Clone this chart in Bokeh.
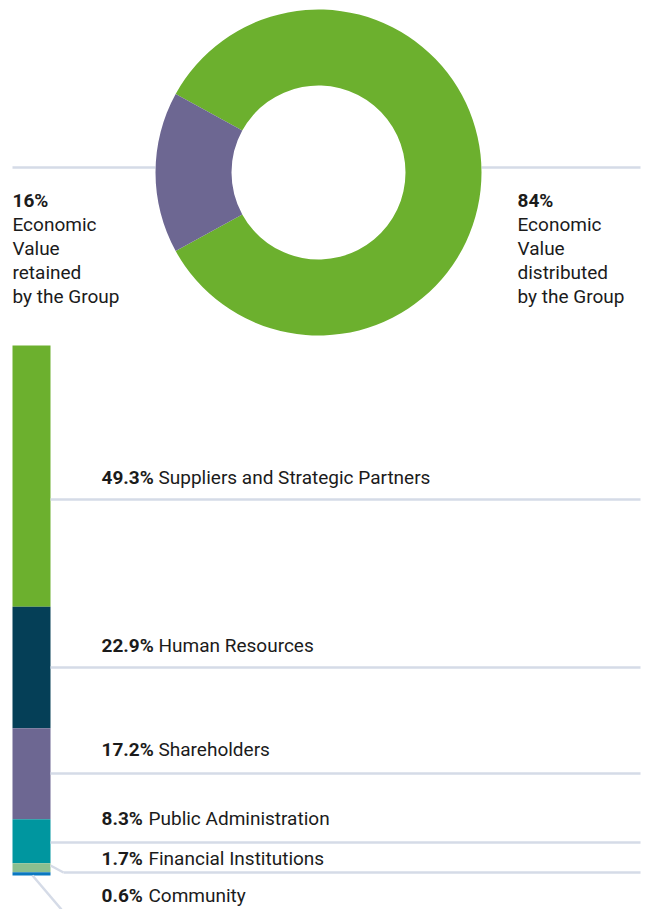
from bokeh.plotting import figure
from bokeh.models import Range1d, ColumnDataSource
from bokeh.core.properties import value
from bokeh.embed import file_html
from bokeh.resources import INLINE
import numpy as np

# ---------------- data ----------------
donut_labels = ["Economic Value distributed by the Group", "Economic Value retained by the Group"]
donut_values = [84, 16]
donut_colors = ["#6cb02e", "#6d6792"]

bar_categories = ["Suppliers and Strategic Partners", "Human Resources", "Shareholders",
                  "Public Administration", "Financial Institutions", "Community"]
bar_values = [49.3, 22.9, 17.2, 8.3, 1.7, 0.6]
bar_colors = ["#6cb02e", "#053f57", "#6d6792", "#00969f", "#8bbf8f", "#0b78c0"]

left_lines = ["Economic", "Value", "retained", "by the Group"]
right_lines = ["Economic", "Value", "distributed", "by the Group"]

# ---------------- layout ----------------
W, H = 655, 909
TXT_SHIFT = 7  # svg text baseline correction

def sy(y):
    """page y (from top) -> data y"""
    return H - y

def ty(y):
    """page baseline y for text -> data y"""
    return H - (y - TXT_SHIFT)

FONT = "Roboto"
TXT = "#1b1b1b"
LINE = "#d5dbe7"
FS = "19px"

p = figure(width=W, height=H, output_backend="svg", toolbar_location=None,
           x_range=Range1d(0, W), y_range=Range1d(0, H), min_border=0,
           outline_line_color=None, background_fill_color="white")
p.axis.visible = False
p.grid.visible = False

# percent scale for stacked bar: 0% at page y 345, 100% at page y 875 (downward)
bar_top_px, bar_bot_px = 345, 875
k = (bar_bot_px - bar_top_px) / 100.0
p.extra_y_ranges = {"pct": Range1d(start=(H - bar_top_px) / k, end=(0 - bar_top_px) / k)}

# ---------------- guide lines ----------------
p.segment(x0=[12, 481], y0=[sy(167)] * 2, x1=[155, 640], y1=[sy(167)] * 2,
          line_color=LINE, line_width=2.5)

# ---------------- donut ----------------
cx, cy = 318, sy(172)
share = np.array(donut_values, dtype=float) / sum(donut_values)
ret_half = share[1] * np.pi  # retained slice centred on the left
starts = [np.pi + ret_half, np.pi - ret_half]
ends = [np.pi - ret_half + 2 * np.pi, np.pi + ret_half]
p.annular_wedge(x=[cx, cx], y=[cy, cy], inner_radius=87, outer_radius=163,
                inner_radius_units="screen", outer_radius_units="screen",
                start_angle=starts, end_angle=ends, fill_color=donut_colors,
                line_color=None)

# donut texts
p.text(x=[12], y=[ty(207)], text=[f"{donut_values[1]}%"], text_font=value(FONT),
       text_font_style="bold", text_font_size=FS, text_color=TXT, text_baseline="alphabetic")
p.text(x=[517], y=[ty(207)], text=[f"{donut_values[0]}%"], text_font=value(FONT),
       text_font_style="bold", text_font_size=FS, text_color=TXT, text_baseline="alphabetic")
base = [231, 255, 279, 303]
p.text(x=[12] * 4, y=[ty(b) for b in base], text=left_lines, text_font=value(FONT),
       text_font_size=FS, text_color=TXT, text_baseline="alphabetic")
p.text(x=[517] * 4, y=[ty(b) for b in base], text=right_lines, text_font=value(FONT),
       text_font_size=FS, text_color=TXT, text_baseline="alphabetic")

# ---------------- stacked bar ----------------
cum = np.cumsum([0] + bar_values)
src = ColumnDataSource(dict(left=[12] * len(bar_values), right=[50] * len(bar_values),
                            top=cum[:-1], bottom=cum[1:], color=bar_colors))
p.quad(left="left", right="right", top="top", bottom="bottom", fill_color="color",
       line_color=None, source=src, y_range_name="pct")

# label guide lines
p.segment(x0=[50, 50, 50, 50, 63], y0=[sy(499), sy(667), sy(773), sy(842), sy(872)],
          x1=[640] * 5, y1=[sy(499), sy(667), sy(773), sy(842), sy(872)],
          line_color=LINE, line_width=2.5)
# connectors for small slices
p.segment(x0=[50, 32], y0=[sy(865), sy(875)], x1=[63, 61], y1=[sy(872), sy(909)],
          line_color=LINE, line_width=2.5)

# bar labels
label_base = [484, 652, 756, 825, 865, 902]
name_x = [158, 158, 158, 148, 148, 148]
p.text(x=[101] * 6, y=[ty(b) for b in label_base], text=[f"{v}%" for v in bar_values],
       text_font=value(FONT), text_font_style="bold", text_font_size=FS, text_color=TXT,
       text_baseline="alphabetic")
p.text(x=name_x, y=[ty(b) for b in label_base], text=bar_categories,
       text_font=value(FONT), text_font_size=FS, text_color=TXT, text_baseline="alphabetic")

open("out.html", "w").write(file_html(p, INLINE))
